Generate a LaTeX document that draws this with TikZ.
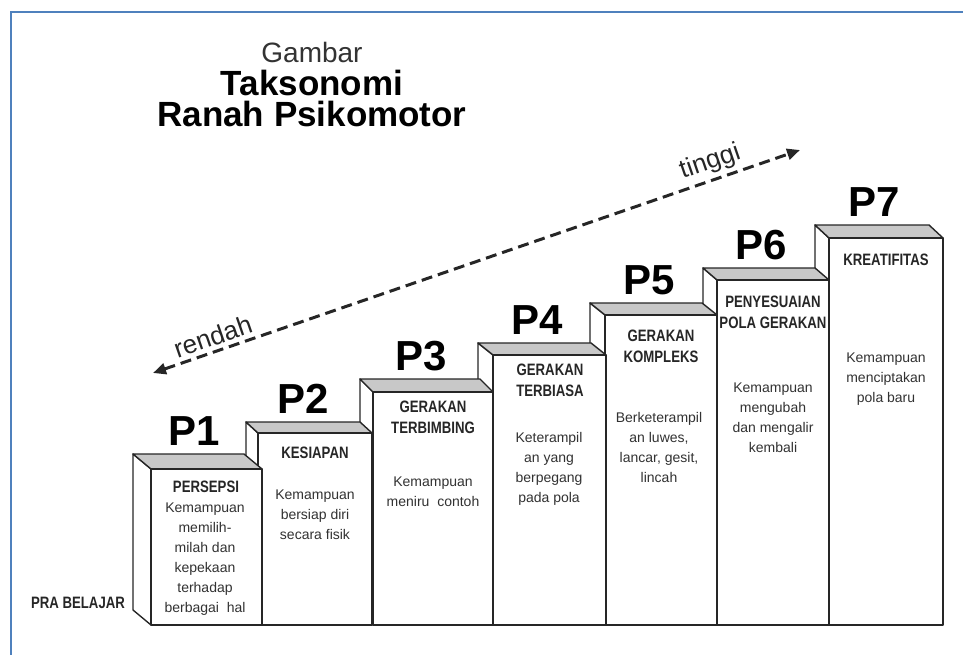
\documentclass[tikz,border=0pt]{standalone}
\usepackage{fontspec}
\setmainfont{Liberation Sans}
\newfontfamily\sempit[FakeStretch=0.8]{Liberation Sans}
\usetikzlibrary{arrows.meta}
\definecolor{bingkai}{RGB}{79,129,189}
\definecolor{atap}{RGB}{200,200,200}
\definecolor{teks}{RGB}{50,50,50}

\begin{document}
\begin{tikzpicture}[x=1pt,y=-1pt,
    sisi/.style={draw=black!85, line width=1.4pt, line join=round},
    tingkat/.style={font=\bfseries\fontsize{42}{42}\selectfont, inner sep=0pt, anchor=south},
    judul/.style={font=\sempit\bfseries\fontsize{16.5}{21}\selectfont, align=center, text=black!85, inner sep=0pt},
    ket/.style={font=\fontsize{14}{20}\selectfont, align=center, text=teks, inner sep=0pt},
    arah/.style={font=\fontsize{26}{26}\selectfont, text=black!85, inner sep=0pt},
    panah/.style={line width=3pt, draw=black!85, dash pattern=on 11pt off 6pt,
        {Triangle[length=13pt,width=11pt]}-{Triangle[length=13pt,width=11pt]}}]
    \useasboundingbox (0,0) rectangle (963,655);
    \draw[bingkai, line width=2pt] (11,655) -- (11,12) -- (963,12);
    % judul
    \node[font=\fontsize{28}{28}\selectfont, text=black!80] (gambar) at (312,52) {Gambar};
    \node[font=\bfseries\fontsize{35}{31}\selectfont, align=center] (judulutama) at (312,98) {Taksonomi\\Ranah Psikomotor};
    % tanda rendah - tinggi
    \coordinate (rendah) at (153,373);
    \coordinate (tinggi) at (800,150);
    \draw[panah] (rendah) -- node[arah, pos=.1, above=4pt, sloped] (trendah) {rendah}
        node[arah, pos=.87, above=4pt, sloped] (ttinggi) {tinggi} (tinggi);
    % anak tangga P7 ... P1
    \foreach \n/\xl/\xr/\yt/\dx/\dy in {7/829/943/238/14/13, 6/717/829/280/14/12,
        5/605/717/315/15/12, 4/493/606/355/15/12, 3/373/493/392/13/13,
        2/258/372/433/12/11, 1/151/262/469/18/15}{
        \filldraw[sisi, fill=white] (\xl,\yt) -- (\xl-\dx,\yt-\dy) -- (\xl-\dx,625-\dy) -- (\xl,625) -- cycle;
        \filldraw[sisi, fill=atap] (\xl,\yt) -- (\xl-\dx,\yt-\dy) -- (\xr-\dx,\yt-\dy) -- (\xr,\yt) -- cycle;
        \filldraw[sisi, fill=white] (\xl,\yt) rectangle (\xr,625);
        \node[tingkat] (p\n) at ({(\xl+\xr)/2-12},\yt-\dy-8) {P\n};
    }
    % isi tiap tangga
    \node[judul] (j1) at (206,487) {PERSEPSI};
    \node[ket] (k1) at (205,559) {Kemampuan\\memilih-\\milah dan\\kepekaan\\terhadap\\berbagai\ \ hal};
    \node[judul] (j2) at (315,453) {KESIAPAN};
    \node[ket] (k2) at (315,515) {Kemampuan\\bersiap diri\\secara fisik};
    \node[judul] (j3) at (433,417) {GERAKAN\\TERBIMBING};
    \node[ket] (k3) at (433,492) {Kemampuan\\meniru\ \ contoh};
    \node[judul] (j4) at (550,380) {GERAKAN\\TERBIASA};
    \node[ket] (k4) at (549,469) {Keterampil\\an yang\\berpegang\\pada pola};
    \node[judul] (j5) at (661,346) {GERAKAN\\KOMPLEKS};
    \node[ket] (k5) at (659,447) {Berketerampil\\an luwes,\\lancar, gesit,\\lincah};
    \node[judul] (j6) at (773,312) {PENYESUAIAN\\POLA GERAKAN};
    \node[ket] (k6) at (773,418) {Kemampuan\\mengubah\\dan mengalir\\kembali};
    \node[judul] (j7) at (886,260) {KREATIFITAS};
    \node[ket] (k7) at (886,379) {Kemampuan\\menciptakan\\pola baru};
    \node[judul] (prabelajar) at (78,603) {PRA BELAJAR};
\end{tikzpicture}
\end{document}
